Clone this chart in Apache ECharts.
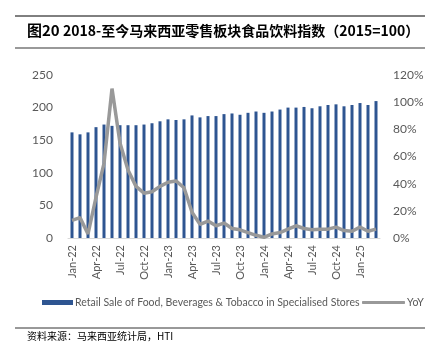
<!DOCTYPE html>
<html>
<head>
<meta charset="utf-8">
<script src="https://cdn.jsdelivr.net/npm/echarts@6/dist/echarts.min.js"></script>
<style>html,body{margin:0;padding:0;background:#fff;}#c{width:435px;height:357px;}</style>
</head>
<body>
<div id="c"></div>
<script>
const categories = ["Jan-22","Feb-22","Mar-22","Apr-22","May-22","Jun-22","Jul-22","Aug-22","Sep-22","Oct-22","Nov-22","Dec-22",
"Jan-23","Feb-23","Mar-23","Apr-23","May-23","Jun-23","Jul-23","Aug-23","Sep-23","Oct-23","Nov-23","Dec-23",
"Jan-24","Feb-24","Mar-24","Apr-24","May-24","Jun-24","Jul-24","Aug-24","Sep-24","Oct-24","Nov-24","Dec-24",
"Jan-25","Feb-25","Mar-25"];
const retailIndex = [162,159,162,170,174,172,173,173,173,174,176,179,
182,181,182,188,185,187,187,190,191,189,192,194,
192,194,197,200,200,201,199,202,204,205,202,204,
207,204,210];
const yoy = [13,15,3,30,55,110,70,50,38,33,34,38,
41,42,37,19,10,12.5,9,11,7,6,4,2,
0.5,3,4,6.5,9,7,6,6.5,6.5,8,5.5,5,
8,5,6.5];
const leftTicks = [0,50,100,150,200,250];
const rightTicks = [0,20,40,60,80,100,120];
const barName = "Retail Sale of Food, Beverages & Tobacco in Specialised Stores";
const lineName = "YoY";

const chart = echarts.init(document.getElementById('c'));
const font = "Lato, 'Open Sans', sans-serif";
const legendText = {fontSize: 10.5, color: '#595959', fontFamily: font, padding:[0,0,0,-3]};
chart.setOption({
  animation: false,
  backgroundColor: '#fff',
  graphic: [
    {type:'line', shape:{x1:15,y1:16,x2:425,y2:16}, style:{stroke:'#000', lineWidth:1}},
    {type:'line', shape:{x1:15,y1:48,x2:425,y2:48}, style:{stroke:'#777', lineWidth:1.5}},
    {type:'text', left:27, top:23, style:{
      text:'{a|图20} {b|2018-至今马来西亚零售板块食品饮料指数（2015=100）}',
      rich:{
        a:{fontSize:15, fontWeight:'bold', fill:'#000', fontFamily:"'Noto Sans CJK SC', sans-serif"},
        b:{fontSize:14, fontWeight:'bold', fill:'#000', fontFamily:"'Noto Sans CJK SC', sans-serif"}
      }}},
    {type:'line', shape:{x1:15,y1:328,x2:425,y2:328}, style:{stroke:'#333', lineWidth:1}},
    {type:'text', left:27, top:331, style:{text:'资料来源：马来西亚统计局，HTI', fontSize:10, fill:'#000', fontFamily:"'Noto Sans CJK SC', sans-serif"}}
  ],
  legend: [
    {left: 37, top: 292, itemWidth: 31, itemHeight: 5, textStyle: legendText,
     data: [{name: barName, icon: 'rect'}]},
    {left: 357, top: 292, itemWidth: 43, itemHeight: 3, textStyle: legendText,
     data: [{name: lineName, icon: 'roundRect', itemStyle:{color:'#999'}}]}
  ],
  grid: {left: 68, right: 55, top: 75, bottom: 119},
  xAxis: {
    type: 'category',
    data: categories,
    boundaryGap: true,
    axisLine: {lineStyle: {color: '#d9d9d9'}},
    axisTick: {interval: 2, length: 5, lineStyle: {color: '#d9d9d9'}},
    axisLabel: {interval: 2, rotate: 90, fontSize: 11, color: '#595959', fontFamily: font, margin: 7}
  },
  yAxis: [
    {type: 'value', min: leftTicks[0], max: leftTicks[leftTicks.length-1], interval: 50,
     splitLine: {show: false}, axisLine: {show: false}, axisTick: {show: false},
     axisLabel: {fontSize: 12, color: '#595959', fontFamily: font, margin: 15}},
    {type: 'value', min: rightTicks[0], max: rightTicks[rightTicks.length-1], interval: 20,
     splitLine: {show: false}, axisLine: {show: false}, axisTick: {show: false},
     axisLabel: {fontSize: 12, color: '#595959', fontFamily: font, margin: 13, formatter: '{value}%'}}
  ],
  series: [
    {name: barName, type: 'bar', data: retailIndex, barWidth: 3,
     itemStyle: {color: '#2E5591'}},
    {name: lineName, type: 'line', yAxisIndex: 1, data: yoy, showSymbol: false, symbol: 'none',
     lineStyle: {color: '#999999', width: 3.5}, itemStyle: {color: '#999999'}}
  ]
});
</script>
</body>
</html>
